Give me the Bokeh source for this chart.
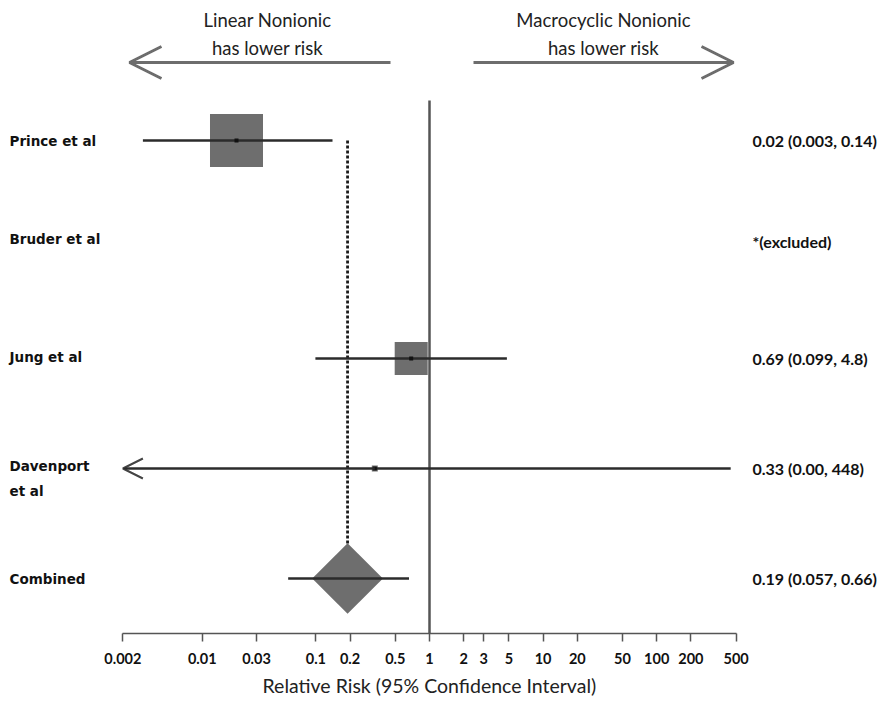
import math
from bokeh.plotting import figure
from bokeh.models import Range1d, FixedTicker, Arrow, OpenHead, ColumnDataSource, Title
from bokeh.core.properties import value
from bokeh.embed import file_html
from bokeh.resources import INLINE

# ---------------- data ----------------
studies = ["Prince et al", "Bruder et al", "Jung et al", "Davenport\net al", "Combined"]
rr = [0.02, None, 0.69, 0.33, 0.19]
ci_low = [0.003, None, 0.099, 0.00, 0.057]
ci_high = [0.14, None, 4.8, 448, 0.66]
ci_text = ["0.02 (0.003, 0.14)", "*(excluded)", "0.69 (0.099, 4.8)",
           "0.33 (0.00, 448)", "0.19 (0.057, 0.66)"]
box_weight = [53, 0, 33, 6]          # drawn box size (study weight)
tick_values = [0.002, 0.01, 0.03, 0.1, 0.2, 0.5, 1, 2, 3, 5, 10, 20, 50, 100, 200, 500]
tick_labels = ["0.002", "0.01", "0.03", "0.1", "0.2", "0.5", "1", "2", "3", "5",
               "10", "20", "50", "100", "200", "500"]
axis_title = "Relative Risk (95% Confidence Interval)"
left_note = ["Linear Nonionic", "has lower risk"]
right_note = ["Macrocyclic Nonionic", "has lower risk"]

# ---------------- layout ----------------
FIG_W, FIG_H = 880, 702
X_ONE = 429.0          # screen x of RR = 1
PX_DEC = 113.6         # px per decade
AXIS_Y = 633
def sx(px):
    return 10 ** ((px - X_ONE) / PX_DEC)

row_y = [140, 238, 358, 468, 578]
label_y = [140, 238, 356, 478, 578]
right_y = [140, 241, 358, 468, 578]
FONT = "Lato"
LFONT = "DejaVu Sans"
GREY = "#6e6e6e"
LINE = "#2b2b2b"

p = figure(width=FIG_W, height=FIG_H, x_axis_type="log",
           x_range=Range1d(sx(0), sx(FIG_W)), y_range=Range1d(AXIS_Y, 0),
           output_backend="svg", toolbar_location=None, y_axis_location=None,
           min_border_left=0, min_border_right=0, min_border_top=0,
           min_border_bottom=FIG_H - AXIS_Y)
p.grid.visible = False
p.outline_line_color = None
p.background_fill_color = "white"
p.border_fill_color = "white"

# reference line at RR = 1
p.segment(x0=[1], y0=[100], x1=[1], y1=[AXIS_Y], line_color="#555555", line_width=2.5)

# dashed line at pooled estimate
p.segment(x0=[rr[4]], y0=[row_y[0]], x1=[rr[4]], y1=[row_y[4] - 35],
          line_color="#1a1a1a", line_width=2.8, line_dash="3 2")

# study boxes
idx = [i for i in range(4) if rr[i] is not None]
src = ColumnDataSource(dict(x=[rr[i] for i in idx], y=[row_y[i] for i in idx],
                            s=[box_weight[i] for i in idx]))
p.scatter("x", "y", size="s", marker="square", source=src,
          fill_color=GREY, line_color=None)

# pooled diamond
p.scatter(x=[rr[4]], y=[row_y[4]], size=50, marker="square", angle=math.pi / 4,
          fill_color=GREY, line_color=None)

# confidence-interval lines
lo_axis = tick_values[0]
seg_x0, seg_x1, seg_y = [], [], []
for i in range(5):
    if rr[i] is None:
        continue
    if ci_low[i] > 0:
        seg_x0.append(ci_low[i]); seg_x1.append(ci_high[i]); seg_y.append(row_y[i])
    else:
        seg_x0.append(rr[i]); seg_x1.append(ci_high[i]); seg_y.append(row_y[i])
        p.add_layout(Arrow(x_start=rr[i], y_start=row_y[i], x_end=lo_axis, y_end=row_y[i],
                           line_color=LINE, line_width=2.5,
                           end=OpenHead(size=20, line_color="#444444", line_width=2)))
p.segment(x0=seg_x0, y0=seg_y, x1=seg_x1, y1=seg_y, line_color=LINE, line_width=2.5)

# centre dots
p.scatter(x=[rr[i] for i in idx], y=[row_y[i] for i in idx], size=4, marker="square",
          fill_color="#111111", line_color=None)

# direction arrows
AR = "#6d6d6d"
p.add_layout(Arrow(x_start=sx(390), y_start=62, x_end=sx(129), y_end=62,
                   line_color=AR, line_width=3,
                   end=OpenHead(size=32, line_color=AR, line_width=3)))
p.add_layout(Arrow(x_start=sx(473), y_start=62, x_end=sx(733), y_end=62,
                   line_color=AR, line_width=3,
                   end=OpenHead(size=32, line_color=AR, line_width=3)))
for lines, cx in ((left_note, 267), (right_note, 603)):
    p.text(x=[sx(cx)] * 2, y=[19, 47], text=lines, text_align="center",
           text_baseline="middle", text_font=value(FONT), text_font_size="18.5px",
           text_color="#222222")

# left study labels
p.text(x=[sx(9)] * 5, y=label_y, text=studies, text_align="left", text_baseline="middle",
       text_font=value(LFONT), text_font_style="bold", text_font_size="13.5px",
       text_color="#111111", text_line_height=1.59)

# right estimate labels
p.text(x=[sx(752)] * 5, y=right_y, text=ci_text, text_align="left",
       text_baseline="middle", text_font=value(FONT), text_font_style="bold",
       text_font_size="16px", text_color="#111111")

# x axis
ax = p.xaxis[0]
ax.ticker = FixedTicker(ticks=tick_values)
ax.major_label_overrides = {v: l for v, l in zip(tick_values, tick_labels)}
ax.bounds = (tick_values[0], tick_values[-1])
ax.axis_line_color = "#555555"
ax.axis_line_width = 1.5
ax.major_tick_line_color = "#555555"
ax.major_tick_line_width = 1.5
ax.major_tick_in = 0
ax.major_tick_out = 8
ax.minor_tick_line_color = None
ax.major_label_standoff = 11
ax.major_label_text_font = FONT
ax.major_label_text_font_style = "bold"
ax.major_label_text_font_size = "14.5px"
ax.major_label_text_color = "#111111"

p.add_layout(Title(text=axis_title, align="left", offset=262, standoff=10,
                   text_font=FONT, text_font_style="normal", text_font_size="19.5px",
                   text_color="#222222"), "below")

open("out.html", "w").write(file_html(p, INLINE))
